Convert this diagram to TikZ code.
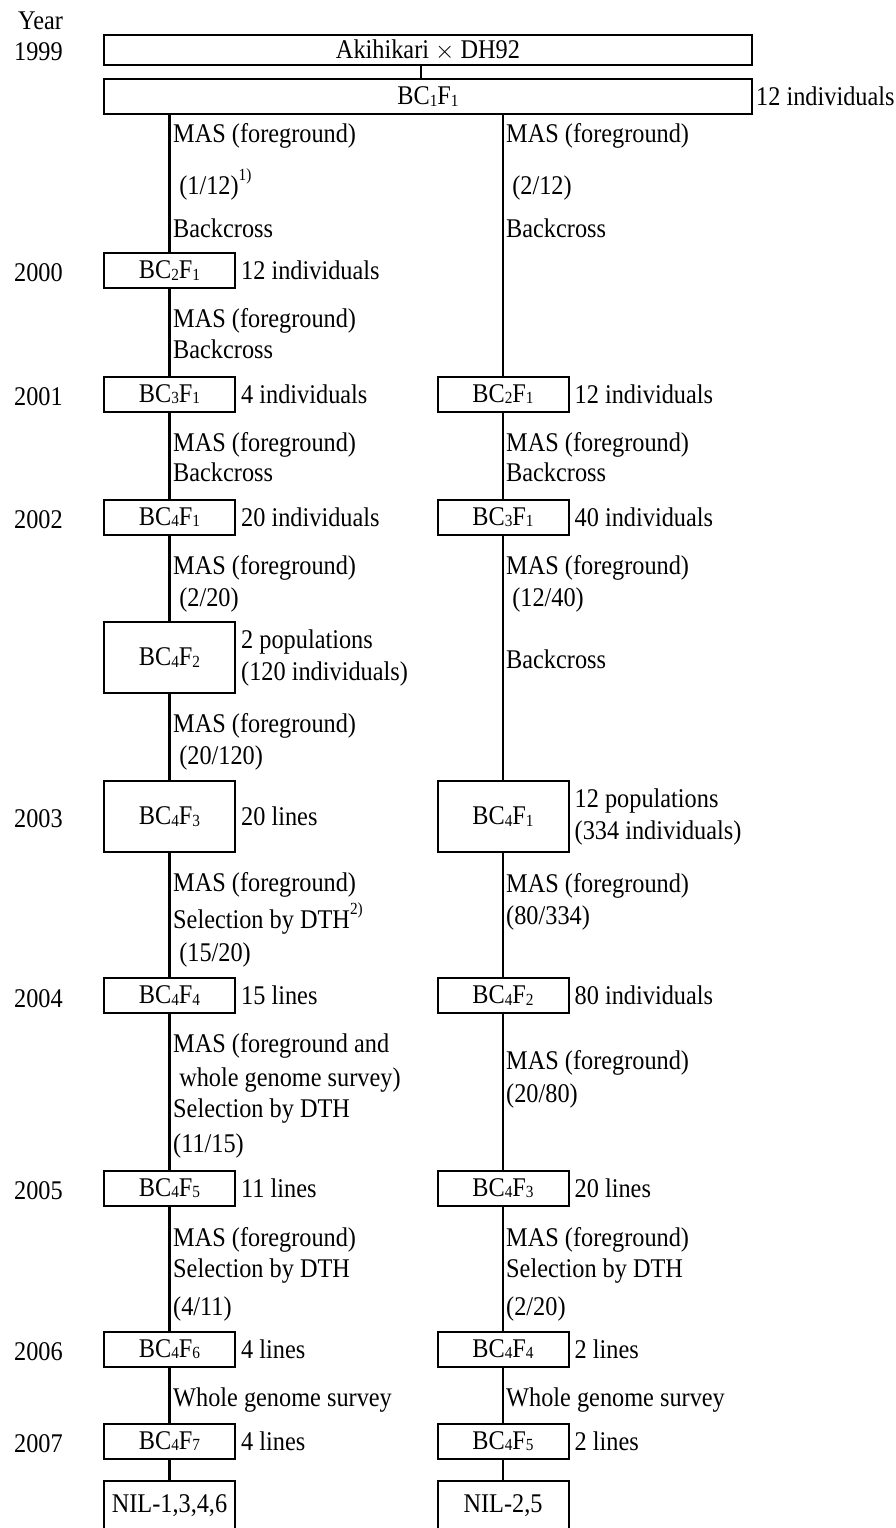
\documentclass[tikz,border=0pt]{standalone}
\usepackage{fontspec}
\setmainfont{Liberation Serif}[FakeStretch=0.9]
\usetikzlibrary{positioning}

\newcommand{\lo}[1]{\raisebox{-.12ex}{\fontsize{17}{17}\selectfont #1}}
\newcommand{\hi}[1]{\raisebox{1.05ex}{\fontsize{17}{17}\selectfont #1}}
\newcommand{\bcf}[2]{BC\lo{#1}F\lo{#2}}

\tikzset{
  genbox/.style={draw, line width=2pt, minimum width=131pt, minimum height=35pt, inner sep=0pt},
  tallbox/.style={genbox, minimum height=71pt},
  widebox/.style={genbox, minimum width=648pt},
  steptxt/.style={anchor=west, inner sep=0pt, text height=21pt, text depth=3pt},
  sidetxt/.style={inner sep=0pt, align=left},
  yeartxt/.style={anchor=west, inner sep=0pt, text height=21pt, text depth=3pt},
  thicklink/.style={line width=2.2pt},
  thinlink/.style={line width=1.1pt}
}

\begin{document}
\begin{tikzpicture}[x=1pt, y=-1pt, font=\fontsize{27}{32}\selectfont]
  \useasboundingbox (0,0) rectangle (895,1528);
  \clip (0,0) rectangle (895,1528);

  % years
  \node[yeartxt] (year) at (18,21) {Year};
  \foreach \yr/\y in {1999/51, 2000/272, 2001/396, 2002/519, 2003/818, 2004/998, 2005/1190, 2006/1351, 2007/1443}
    \node[yeartxt] (y\yr) at (14,\y) {\yr};

  % top boxes
  \node[widebox, minimum height=30pt] (cross) at (428,50) {Akihikari $\times$ DH92};
  \node[widebox] (bc1) at (428,96.5) {\bcf{1}{1}};
  \node[sidetxt, right=3pt of bc1] {12 individuals};

  % left line of boxes
  \node[genbox] (bcL1) at (169.5,270.5) {\bcf{2}{1}};
  \node[genbox] (bcL2) at (169.5,394) {\bcf{3}{1}};
  \node[genbox] (bcL3) at (169.5,517) {\bcf{4}{1}};
  \node[tallbox] (bcL4) at (169.5,657.5) {\bcf{4}{2}};
  \node[tallbox] (bcL5) at (169.5,816.5) {\bcf{4}{3}};
  \node[genbox] (bcL6) at (169.5,995.5) {\bcf{4}{4}};
  \node[genbox] (bcL7) at (169.5,1188) {\bcf{4}{5}};
  \node[genbox] (bcL8) at (169.5,1349) {\bcf{4}{6}};
  \node[genbox] (bcL9) at (169.5,1441) {\bcf{4}{7}};
  \node[genbox, minimum height=49pt] (nilL) at (169.5,1505.5) {NIL-1,3,4,6};

  % right line of boxes
  \node[genbox] (bcR1) at (503,394) {\bcf{2}{1}};
  \node[genbox] (bcR2) at (503,517) {\bcf{3}{1}};
  \node[tallbox] (bcR3) at (503,816.5) {\bcf{4}{1}};
  \node[genbox] (bcR4) at (503,995.5) {\bcf{4}{2}};
  \node[genbox] (bcR5) at (503,1188) {\bcf{4}{3}};
  \node[genbox] (bcR6) at (503,1349) {\bcf{4}{4}};
  \node[genbox] (bcR7) at (503,1441) {\bcf{4}{5}};
  \node[genbox, minimum height=49pt] (nilR) at (503,1505.5) {NIL-2,5};

  % sizes next to boxes
  \node[sidetxt, right=5pt of bcL1] {12 individuals};
  \node[sidetxt, right=5pt of bcL2] {4 individuals};
  \node[sidetxt, right=5pt of bcL3] {20 individuals};
  \node[sidetxt, right=5pt of bcL4] {2 populations\\(120 individuals)};
  \node[sidetxt, right=5pt of bcL5] {20 lines};
  \node[sidetxt, right=5pt of bcL6] {15 lines};
  \node[sidetxt, right=5pt of bcL7] {11 lines};
  \node[sidetxt, right=5pt of bcL8] {4 lines};
  \node[sidetxt, right=5pt of bcL9] {4 lines};
  \node[sidetxt, right=5pt of bcR1] {12 individuals};
  \node[sidetxt, right=5pt of bcR2] {40 individuals};
  \node[sidetxt, right=5pt of bcR3] {12 populations\\(334 individuals)};
  \node[sidetxt, right=5pt of bcR4] {80 individuals};
  \node[sidetxt, right=5pt of bcR5] {20 lines};
  \node[sidetxt, right=5pt of bcR6] {2 lines};
  \node[sidetxt, right=5pt of bcR7] {2 lines};

  % connectors
  \draw[thinlink] ([xshift=-7pt]cross.south) -- ([xshift=-7pt]cross.south |- bc1.north);
  \draw[thicklink] (bc1.south -| bcL1.north) -- (bcL1.north);
  \draw[thinlink] (bc1.south -| bcR1.north) -- (bcR1.north);
  \foreach \a/\b in {L1/L2, L2/L3, L3/L4, L4/L5, L5/L6, L6/L7, L7/L8, L8/L9}
    \draw[thicklink] (bc\a.south) -- (bc\b.north);
  \draw[thicklink] (bcL9.south) -- (nilL.north);
  \foreach \a/\b in {R1/R2, R2/R3, R3/R4, R4/R5, R5/R6, R6/R7}
    \draw[thinlink] (bc\a.south) -- (bc\b.north);
  \draw[thinlink] (bcR7.south) -- (nilR.north);

  % selection steps, left
  \node[steptxt] (sL1a) at (173,133) {MAS (foreground)};
  \node[steptxt] (sL1b) at (173,185) {\ (1/12)\hi{1)}};
  \node[steptxt] (sL1c) at (173,228) {Backcross};
  \node[steptxt] (sL2a) at (173,318) {MAS (foreground)};
  \node[steptxt] (sL2b) at (173,349) {Backcross};
  \node[steptxt] (sL3a) at (173,442) {MAS (foreground)};
  \node[steptxt] (sL3b) at (173,472) {Backcross};
  \node[steptxt] (sL4a) at (173,565) {MAS (foreground)};
  \node[steptxt] (sL4b) at (173,597) {\ (2/20)};
  \node[steptxt] (sL5a) at (173,723) {MAS (foreground)};
  \node[steptxt] (sL5b) at (173,755) {\ (20/120)};
  \node[steptxt] (sL6a) at (173,882) {MAS (foreground)};
  \node[steptxt] (sL6b) at (173,919) {Selection by DTH\hi{2)}};
  \node[steptxt] (sL6c) at (173,952) {\ (15/20)};
  \node[steptxt] (sL7a) at (173,1043) {MAS (foreground and};
  \node[steptxt] (sL7b) at (173,1077) {\ whole genome survey)};
  \node[steptxt] (sL7c) at (173,1108) {Selection by DTH};
  \node[steptxt] (sL7d) at (173,1143) {(11/15)};
  \node[steptxt] (sL8a) at (173,1237) {MAS (foreground)};
  \node[steptxt] (sL8b) at (173,1268) {Selection by DTH};
  \node[steptxt] (sL8c) at (173,1306) {(4/11)};
  \node[steptxt] (sL9a) at (173,1397) {Whole genome survey};

  % selection steps, right
  \node[steptxt] (sR1a) at (506,133) {MAS (foreground)};
  \node[steptxt] (sR1b) at (506,185) {\ (2/12)};
  \node[steptxt] (sR1c) at (506,228) {Backcross};
  \node[steptxt] (sR2a) at (506,442) {MAS (foreground)};
  \node[steptxt] (sR2b) at (506,472) {Backcross};
  \node[steptxt] (sR3a) at (506,565) {MAS (foreground)};
  \node[steptxt] (sR3b) at (506,597) {\ (12/40)};
  \node[steptxt] (sR3c) at (506,659) {Backcross};
  \node[steptxt] (sR4a) at (506,883) {MAS (foreground)};
  \node[steptxt] (sR4b) at (506,915) {(80/334)};
  \node[steptxt] (sR5a) at (506,1060) {MAS (foreground)};
  \node[steptxt] (sR5b) at (506,1093) {(20/80)};
  \node[steptxt] (sR6a) at (506,1237) {MAS (foreground)};
  \node[steptxt] (sR6b) at (506,1268) {Selection by DTH};
  \node[steptxt] (sR6c) at (506,1306) {(2/20)};
  \node[steptxt] (sR7a) at (506,1397) {Whole genome survey};
\end{tikzpicture}
\end{document}
